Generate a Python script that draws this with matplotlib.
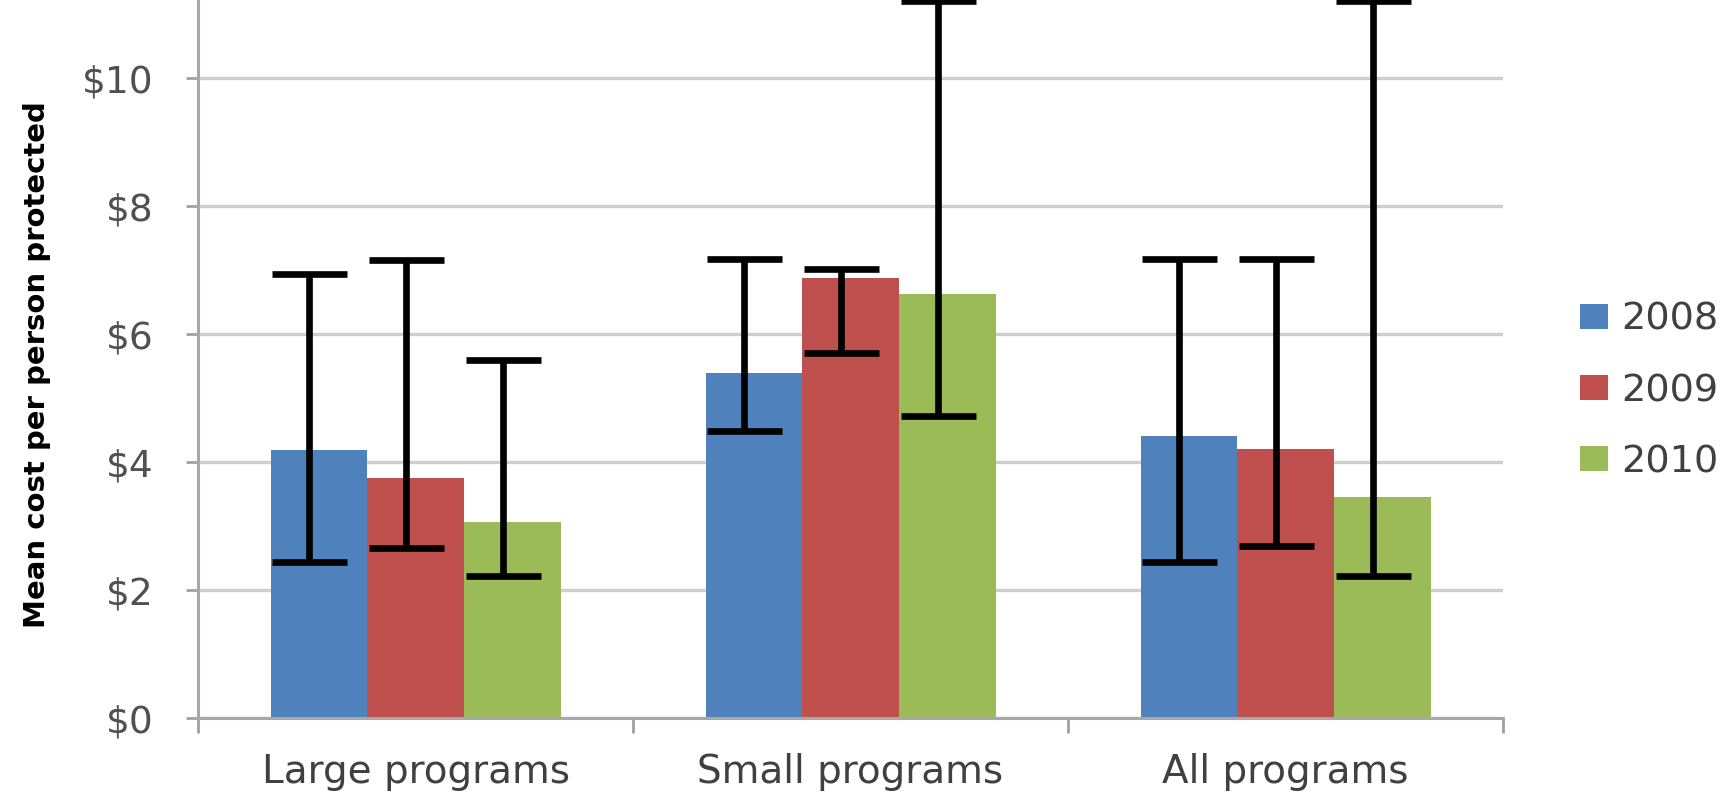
import matplotlib
matplotlib.use("Agg")
import matplotlib.pyplot as plt
import numpy as np

categories = ["Large programs", "Small programs", "All programs"]
years = ["2008", "2009", "2010"]
means_2008 = [4.19, 5.39, 4.41]
means_2009 = [3.75, 6.87, 4.20]
means_2010 = [3.06, 6.63, 3.45]
low_2008 = [2.44, 4.48, 2.44]
high_2008 = [6.94, 7.17, 7.17]
low_2009 = [2.66, 5.70, 2.69]
high_2009 = [7.16, 7.02, 7.17]
low_2010 = [2.22, 4.72, 2.22]
high_2010 = [5.59, 11.2, 11.2]
yticks = [0, 2, 4, 6, 8, 10]
ytick_labels = ["$0", "$2", "$4", "$6", "$8", "$10"]

colors = ["#4F81BD", "#C0504D", "#9BBB59"]
means = [means_2008, means_2009, means_2010]
lows = [low_2008, low_2009, low_2010]
highs = [high_2008, high_2009, high_2010]

W, H = 1734, 794
fig = plt.figure(figsize=(W / 100, H / 100), dpi=100)
ax_left, ax_right = 198 / W, 1503 / W
y0_px = 718
px_per_unit = 64
ymax = 12
ax_bottom = (H - y0_px) / H
ax_height = ymax * px_per_unit / H
ax = fig.add_axes([ax_left, ax_bottom, ax_right - ax_left, ax_height])

x = np.arange(len(categories))
w = 1 / 4.5
for i, (m, lo, hi, c, yr) in enumerate(zip(means, lows, highs, colors, years)):
    pos = x + (i - 1) * w
    ax.bar(pos, m, width=w, color=c, label=yr, zorder=2, linewidth=0)
    m_arr = np.array(m)
    yerr = [m_arr - np.array(lo), np.array(hi) - m_arr]
    ax.errorbar(pos - 0.1 * w, m, yerr=yerr, fmt="none", ecolor="black",
                elinewidth=4.8, capsize=27, capthick=4.8, zorder=3, clip_on=True)

ax.set_xlim(-0.5, 2.5)
ax.set_ylim(0, ymax)
ax.set_yticks(yticks)
ax.set_yticklabels(ytick_labels)
ax.set_xticks(x)
ax.set_xticklabels(categories)
ax.set_xticks([-0.5, 0.5, 1.5, 2.5], minor=True)
ax.tick_params(axis="x", which="major", length=0, pad=25, labelsize=28, labelcolor="#404040")
ax.tick_params(axis="x", which="minor", length=11, width=2, color="#A0A0A0", direction="out")
ax.tick_params(axis="y", length=9, width=2, color="#A0A0A0", pad=23, labelsize=27, labelcolor="#505050")

ax.yaxis.grid(True, color="#CFCFCF", linewidth=2.4, zorder=0)
ax.set_axisbelow(True)
for s in ["top", "right"]:
    ax.spines[s].set_visible(False)
for s in ["left", "bottom"]:
    ax.spines[s].set_color("#A8A8A8")
    ax.spines[s].set_linewidth(2.2)

fig.text(37 / W, 1 - 365 / H, "Mean cost per person protected", rotation=90,
         ha="center", va="center", fontsize=21, fontweight="bold", color="black")

fig.legend(loc="center left", bbox_to_anchor=(1580 / W, 1 - 391 / H), frameon=False,
           fontsize=27.5, handlelength=0.72, handleheight=0.62, handletextpad=0.35,
           labelspacing=0.92, borderpad=0, borderaxespad=0, labelcolor="#404040")

fig.savefig("out.png", dpi=100)
